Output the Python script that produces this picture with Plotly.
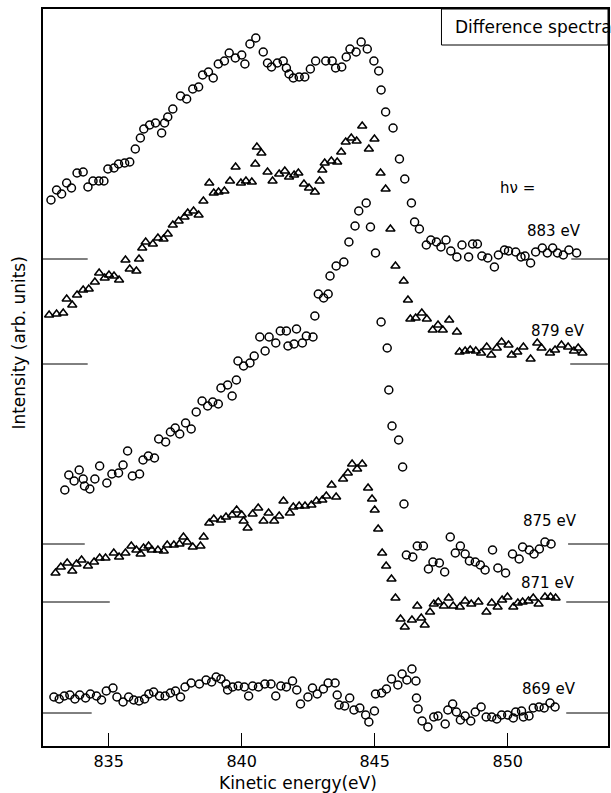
import plotly.graph_objects as go

# ---------------- data (kinetic energy in eV, intensity in arb. units) ----------------
e883 = [832.83, 833.04, 833.23, 833.42, 833.60, 833.81, 834.04, 834.22, 834.41, 834.63, 834.82, 834.97,
        835.20, 835.37, 835.60, 835.79, 836.00, 836.19, 836.32, 836.54, 836.76, 836.99, 837.10, 837.22,
        837.41, 837.70, 837.93, 838.16, 838.38, 838.53, 838.75, 838.93, 839.12, 839.35, 839.53, 839.76,
        840.00, 840.12, 840.31, 840.53, 840.81, 840.97, 841.12, 841.34, 841.56, 841.68, 841.78, 841.94,
        842.16, 842.37, 842.58, 842.78, 843.16, 843.40, 843.53, 843.76, 843.93, 844.07, 844.30, 844.49,
        844.72, 844.97, 845.15, 845.24, 845.41, 845.69, 845.93, 846.13, 846.38, 846.50, 846.68, 846.94,
        847.11, 847.32, 847.49, 847.68, 847.86, 848.09, 848.28, 848.53, 848.68, 848.86, 849.03, 849.25,
        849.50, 849.65, 849.88, 850.03, 850.30, 850.50, 850.65, 850.86, 851.05, 851.30, 851.49, 851.69,
        851.87, 852.09, 852.30, 852.59]
i883 = [546, 556, 552, 563, 558, 573, 574, 559, 565, 565, 565, 577,
        578, 582, 583, 584, 597, 608, 617, 621, 623, 613, 623, 629,
        637, 650, 647, 657, 659, 671, 674, 668, 682, 685, 693, 688,
        691, 682, 702, 708, 694, 683, 679, 683, 685, 678, 672, 668,
        669, 669, 677, 685, 685, 685, 678, 679, 689, 697, 694, 704,
        697, 685, 675, 656, 634, 618, 587, 567, 543, 524, 517, 501,
        506, 504, 499, 506, 495, 489, 501, 489, 502, 502, 490, 488,
        479, 491, 496, 495, 494, 489, 490, 483, 494, 498, 493, 498,
        493, 491, 496, 493]

e879 = [832.76, 833.04, 833.29, 833.42, 833.63, 833.81, 834.04, 834.25, 834.48, 834.64, 834.85, 835.01,
        835.20, 835.39, 835.63, 835.79, 836.04, 836.14, 836.26, 836.39, 836.66, 836.85, 837.06, 837.22,
        837.41, 837.63, 837.85, 837.97, 838.19, 838.38, 838.56, 838.78, 838.95, 839.13, 839.35, 839.56,
        839.77, 839.97, 840.16, 840.38, 840.51, 840.57, 840.74, 840.97, 841.16, 841.41, 841.62, 841.78,
        841.97, 842.13, 842.34, 842.53, 842.75, 842.93, 843.03, 843.12, 843.37, 843.59, 843.74, 843.91,
        844.12, 844.32, 844.53, 844.78, 844.99, 845.22, 845.41, 845.59, 845.78, 846.09, 846.25, 846.34,
        846.54, 846.77, 846.96, 847.18, 847.38, 847.56, 847.80, 848.09, 848.19, 848.40, 848.59, 848.80,
        849.00, 849.21, 849.38, 849.59, 849.77, 850.03, 850.15, 850.36, 850.59, 850.86, 851.11, 851.27,
        851.59, 851.78, 852.02, 852.27, 852.49, 852.65, 852.81]
i879 = [431, 432, 433, 447, 441, 451, 456, 457, 464, 473, 468, 471,
        470, 466, 486, 477, 475, 487, 498, 504, 502, 508, 507, 512,
        521, 525, 529, 533, 535, 531, 545, 563, 553, 554, 555, 565,
        579, 563, 565, 564, 582, 599, 593, 574, 565, 572, 575, 569,
        571, 573, 562, 558, 554, 565, 576, 583, 585, 584, 594, 604,
        608, 605, 620, 597, 607, 573, 557, 517, 480, 465, 446, 427,
        428, 433, 427, 416, 421, 416, 426, 414, 394, 395, 396, 395,
        393, 399, 391, 398, 404, 401, 391, 394, 399, 387, 403, 398,
        393, 396, 401, 399, 395, 398, 393]

e875 = [833.35, 833.50, 833.70, 833.89, 834.04, 834.09, 834.29, 834.48, 834.66, 834.93, 835.12, 835.37,
        835.54, 835.71, 835.89, 836.16, 836.29, 836.49, 836.72, 836.88, 837.14, 837.32, 837.50, 837.67,
        837.89, 838.10, 838.29, 838.51, 838.72, 838.91, 839.12, 839.22, 839.47, 839.64, 839.80, 839.86,
        840.07, 840.31, 840.47, 840.68, 840.88, 841.03, 841.28, 841.45, 841.68, 841.74, 841.97, 842.06,
        842.28, 842.43, 842.68, 842.75, 842.88, 843.08, 843.25, 843.32, 843.55, 843.84, 844.03, 844.26,
        844.40, 844.68, 844.84, 845.03, 845.24, 845.47, 845.53, 845.65, 845.90, 846.05, 846.10, 846.19,
        846.43, 846.60, 846.83, 847.02, 847.19, 847.43, 847.63, 847.84, 848.03, 848.22, 848.40, 848.56,
        848.78, 848.97, 849.15, 849.43, 849.63, 849.92, 850.18, 850.43, 850.56, 850.81, 850.99, 851.19,
        851.40, 851.63]
i875 = [256, 271, 265, 276, 267, 260, 257, 267, 280, 263, 272, 273,
        281, 295, 270, 272, 286, 290, 288, 307, 304, 314, 318, 312,
        323, 317, 334, 345, 340, 344, 342, 358, 361, 350, 366, 385,
        380, 383, 390, 409, 395, 409, 403, 415, 415, 400, 402, 417,
        403, 410, 409, 430, 452, 448, 452, 470, 480, 484, 504, 520,
        535, 543, 519, 493, 424, 398, 356, 320, 306, 279, 242, 191,
        189, 200, 200, 177, 184, 183, 174, 209, 193, 200, 192, 185,
        184, 181, 176, 196, 178, 173, 192, 187, 199, 196, 192, 197,
        204, 202]

e871 = [833.00, 833.20, 833.44, 833.63, 833.79, 833.98, 834.22, 834.45, 834.66, 834.88, 835.19, 835.39,
        835.63, 835.85, 836.04, 836.20, 836.31, 836.50, 836.62, 836.85, 837.07, 837.20, 837.45, 837.66,
        837.81, 837.95, 838.16, 838.45, 838.57, 838.78, 838.95, 839.22, 839.41, 839.64, 839.81, 840.00,
        840.07, 840.22, 840.41, 840.62, 840.82, 841.01, 841.22, 841.41, 841.57, 841.81, 841.94, 842.16,
        842.38, 842.62, 842.81, 843.03, 843.18, 843.38, 843.55, 843.81, 843.99, 844.15, 844.34, 844.53,
        844.75, 844.90, 845.00, 845.13, 845.28, 845.43, 845.63, 845.78, 845.97, 846.13, 846.40, 846.60,
        846.75, 846.88, 847.08, 847.22, 847.39, 847.60, 847.78, 847.95, 848.20, 848.40, 848.63, 848.90,
        849.20, 849.40, 849.62, 849.79, 849.99, 850.21, 850.38, 850.56, 850.78, 850.96, 851.16, 851.40,
        851.61, 851.80]
i871 = [173, 179, 183, 175, 182, 186, 180, 184, 188, 188, 193, 189,
        193, 200, 196, 192, 198, 200, 196, 196, 195, 201, 201, 202,
        209, 204, 199, 200, 209, 223, 227, 226, 229, 231, 236, 231,
        225, 218, 232, 238, 225, 233, 225, 230, 245, 233, 239, 240,
        240, 241, 245, 246, 250, 261, 249, 267, 273, 282, 277, 282,
        258, 247, 236, 217, 193, 180, 167, 148, 127, 119, 126, 140,
        128, 121, 134, 142, 144, 140, 148, 140, 139, 145, 142, 144,
        134, 143, 139, 146, 149, 139, 143, 144, 145, 148, 142, 149,
        149, 148]

e869 = [832.94, 833.14, 833.33, 833.54, 833.73, 833.91, 834.13, 834.31, 834.54, 834.73, 834.91, 835.16,
        835.31, 835.54, 835.75, 835.94, 836.14, 836.35, 836.51, 836.69, 836.91, 837.12, 837.32, 837.51,
        837.70, 837.87, 838.10, 838.41, 838.66, 838.87, 839.04, 839.22, 839.41, 839.47, 839.66, 839.87,
        840.10, 840.26, 840.41, 840.63, 840.87, 841.10, 841.28, 841.47, 841.68, 841.91, 842.07, 842.21,
        842.49, 842.66, 842.84, 843.07, 843.25, 843.51, 843.59, 843.66, 843.87, 844.06, 844.22, 844.44,
        844.66, 844.78, 844.99, 845.03, 845.26, 845.44, 845.63, 845.87, 846.03, 846.21, 846.40, 846.55,
        846.57, 846.63, 846.78, 847.00, 847.22, 847.38, 847.65, 847.75, 847.93, 848.07, 848.22, 848.40,
        848.61, 848.78, 849.00, 849.19, 849.40, 849.59, 849.77, 850.00, 850.21, 850.30, 850.52, 850.59,
        850.80, 850.96, 851.18, 851.37, 851.59, 851.78]
i869 = [49, 47, 50, 51, 47, 51, 48, 52, 50, 46, 55, 58,
        49, 44, 49, 46, 45, 47, 52, 54, 50, 50, 53, 55,
        49, 59, 63, 62, 66, 64, 69, 67, 62, 56, 59, 60,
        59, 50, 60, 59, 62, 62, 50, 60, 59, 65, 56, 42,
        49, 58, 52, 57, 63, 63, 51, 41, 40, 48, 36, 38,
        31, 24, 35, 52, 53, 57, 67, 61, 72, 66, 77, 65,
        48, 37, 25, 19, 29, 30, 22, 36, 42, 34, 26, 30,
        25, 34, 39, 29, 29, 27, 31, 31, 28, 34, 35, 29,
        30, 38, 39, 38, 43, 39]

# baseline markers (short horizontal lines at left and right axes)
series_names = ["883 eV", "879 eV", "875 eV", "871 eV", "869 eV"]
baseline_level = [487, 382, 202, 144, 33]
baseline_left_end = [834.21, 834.21, 834.10, 835.04, 834.36]
baseline_right_start = [852.39, 852.35, 852.27, 852.20, 852.20]

# label positions (energy, intensity)
label_e = [851.75, 851.90, 851.60, 851.52, 851.56]
label_i = [515, 415, 225, 163, 57]

x_ticks = [835, 840, 845, 850]
x_range = [832.53, 853.77]
y_range = [0, 737]

# ---------------- figure ----------------
FONT = "DejaVu Sans"
fig = go.Figure()

series = [
    (e883, i883, "circle-open"),
    (e879, i879, "triangle-up-open"),
    (e875, i875, "circle-open"),
    (e871, i871, "triangle-up-open"),
    (e869, i869, "circle-open"),
]
for name, (ex, iy, sym) in zip(series_names, series):
    fig.add_trace(go.Scatter(
        x=ex, y=iy, mode="markers", name=name,
        marker=dict(symbol=sym, size=8, color="black",
                    line=dict(color="black", width=1.5)),
        cliponaxis=False, showlegend=False))

for lvl, le, rs in zip(baseline_level, baseline_left_end, baseline_right_start):
    fig.add_trace(go.Scatter(x=[x_range[0], le], y=[lvl, lvl], mode="lines",
                             line=dict(color="black", width=1), showlegend=False, hoverinfo="skip"))
    fig.add_trace(go.Scatter(x=[rs, x_range[1]], y=[lvl, lvl], mode="lines",
                             line=dict(color="black", width=1), showlegend=False, hoverinfo="skip"))

for name, ex, iy in zip(series_names, label_e, label_i):
    fig.add_annotation(x=ex, y=iy, text=name, showarrow=False,
                       font=dict(family=FONT, size=15, color="black"))

fig.add_annotation(x=850.36, y=558, text="hν =", showarrow=False,
                   font=dict(family=FONT, size=15, color="black"))

# "Difference spectra" box
fig.add_shape(type="rect", x0=847.51, x1=x_range[1], y0=701, y1=y_range[1],
              line=dict(color="black", width=1), fillcolor="white", layer="below")
fig.add_annotation(x=847.95, y=719, text="Difference spectra", showarrow=False,
                   xanchor="left", font=dict(family=FONT, size=17, color="black"))

fig.add_annotation(xref="paper", yref="paper", x=0.451, y=0, yanchor="top", yshift=-25,
                   text="Kinetic energy(eV)", showarrow=False,
                   font=dict(family=FONT, size=17, color="black"))
fig.add_annotation(xref="paper", yref="paper", x=0, y=0.546, xshift=-24, xanchor="center",
                   textangle=-90, text="Intensity (arb. units)", showarrow=False,
                   font=dict(family=FONT, size=17, color="black"))

fig.update_xaxes(range=x_range, tickvals=x_ticks, ticktext=[str(t) for t in x_ticks],
                 ticks="inside", ticklen=13, tickwidth=1.2, tickcolor="black",
                 showline=True, linecolor="black", linewidth=1.5, mirror=True,
                 showgrid=False, zeroline=False,
                 tickfont=dict(family=FONT, size=16, color="black"))
fig.update_yaxes(range=y_range, showticklabels=False, ticks="",
                 showline=True, linecolor="black", linewidth=1.5, mirror=True,
                 showgrid=False, zeroline=False)

fig.update_layout(width=611, height=793, margin=dict(l=43, r=1, t=9, b=47),
                  plot_bgcolor="white", paper_bgcolor="white", showlegend=False)

fig.write_html("out.html")
